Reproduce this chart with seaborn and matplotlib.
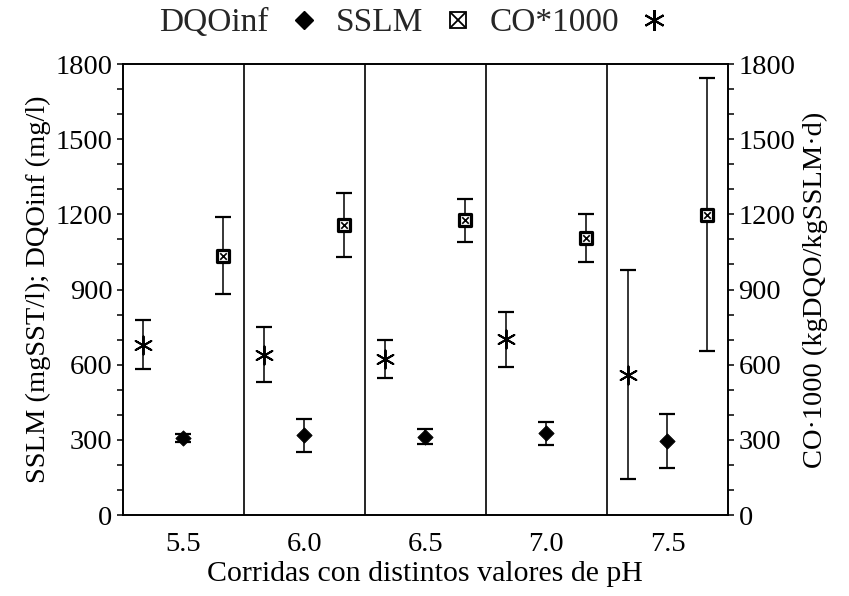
import matplotlib
matplotlib.use("Agg")
import numpy as np
import pandas as pd
import matplotlib.pyplot as plt
import seaborn as sns
from matplotlib.lines import Line2D
from matplotlib.ticker import MultipleLocator
from matplotlib.legend_handler import HandlerTuple

# ---- data ----
ph_labels = ["5.5", "6.0", "6.5", "7.0", "7.5"]
dqo_inf = [308, 318, 312, 326, 296]
dqo_err = [15, 67, 30, 47, 107]
sslm = [1035, 1157, 1176, 1105, 1198]
sslm_err = [153, 129, 86, 95, 545]
co1000 = [680, 640, 621, 701, 560]
co_err = [97, 109, 76, 109, 418]
y_ticks = [0, 300, 600, 900, 1200, 1500, 1800]

sns.set_theme(style="ticks")
plt.rcParams["font.family"] = ["Liberation Serif", "DejaVu Serif"]

fig = plt.figure(figsize=(8.49, 5.96), dpi=100)
ax = fig.add_axes([0.1445, 0.1359, 0.7130, 0.7567])

idx = np.arange(len(ph_labels))
df = pd.DataFrame({"g": idx, "dqo": dqo_inf, "dqo_e": dqo_err,
                   "sslm": sslm, "sslm_e": sslm_err,
                   "co": co1000, "co_e": co_err})
off = 0.33
df["x_co"] = df["g"] - off
df["x_dqo"] = df["g"]
df["x_sslm"] = df["g"] + off

# error bars
for xcol, ycol, ecol in [("x_co", "co", "co_e"), ("x_dqo", "dqo", "dqo_e"),
                         ("x_sslm", "sslm", "sslm_e")]:
    ax.errorbar(df[xcol], df[ycol], yerr=df[ecol], fmt="none", ecolor="black",
                elinewidth=1.1, capsize=5.5, capthick=1.6, zorder=2)

# markers
sns.scatterplot(data=df, x="x_co", y="co", marker=(6, 2, 0), s=170,
                color="black", linewidth=1.4, ax=ax, legend=False, zorder=4)
sns.scatterplot(data=df, x="x_dqo", y="dqo", marker="D", s=60,
                color="black", edgecolor="black", ax=ax, legend=False, zorder=4)
sns.scatterplot(data=df, x="x_sslm", y="sslm", marker="s", s=70,
                facecolor="white", edgecolor="black", linewidth=2.3,
                ax=ax, legend=False, zorder=4)
sns.scatterplot(data=df, x="x_sslm", y="sslm", marker="x", s=22,
                color="black", linewidth=1.2, ax=ax, legend=False, zorder=5)

# group separators
for i in idx[:-1]:
    ax.axvline(i + 0.5, color="black", lw=1.2, zorder=1)

ax.set_xlim(-0.5, len(ph_labels) - 0.5)
ax.set_ylim(0, 1800)
ax.set_xticks(idx)
ax.set_xticklabels(ph_labels)
ax.set_yticks(y_ticks)
ax.yaxis.set_minor_locator(MultipleLocator(100))
ax.tick_params(axis="x", length=0, labelsize=20.5, pad=12, colors="black")
ax.tick_params(axis="y", which="both", length=4.5, width=1.1, direction="out",
               labelsize=20.5, pad=3, colors="black")
for sp in ax.spines.values():
    sp.set_visible(True)
    sp.set_color("black")
    sp.set_linewidth(1.2)
ax.set_xlabel("Corridas con distintos valores de pH", fontsize=21.5, labelpad=3,
              color="black")
ax.set_ylabel("SSLM (mgSST/l); DQOinf (mg/l)", fontsize=20.5, labelpad=3,
              color="black")

ax2 = ax.twinx()
ax2.set_ylim(0, 1800)
ax2.set_yticks(y_ticks)
ax2.yaxis.set_minor_locator(MultipleLocator(100))
ax2.tick_params(axis="y", which="both", length=4.5, width=1.1, direction="out",
                labelsize=20.5, pad=3, colors="black")
for sp in ax2.spines.values():
    sp.set_color("black")
    sp.set_linewidth(1.2)
ax2.set_ylabel("CO·1000 (kgDQO/kgSSLM·d)", fontsize=20.5, labelpad=5,
               color="black")

# legend (label followed by marker)
h_dqo = Line2D([], [], ls="none", marker="D", ms=9, color="black")
h_sq = Line2D([], [], ls="none", marker="s", ms=11, mfc="white", mec="black", mew=1.3)
h_x = Line2D([], [], ls="none", marker="x", ms=10, color="black", mew=1.3)
h_co = Line2D([], [], ls="none", marker=(6, 2, 0), ms=15, color="black", mew=1.5)
fig.legend([h_dqo, (h_sq, h_x), h_co], ["DQOinf", "SSLM", "CO*1000"],
           loc="center", bbox_to_anchor=(0.489, 0.961), ncol=3, frameon=False,
           markerfirst=False, handlelength=1.0, handletextpad=0.55,
           columnspacing=0.45, fontsize=24, borderpad=0.2,
           handler_map={tuple: HandlerTuple(ndivide=1)})

fig.savefig("out.png", dpi=100)
